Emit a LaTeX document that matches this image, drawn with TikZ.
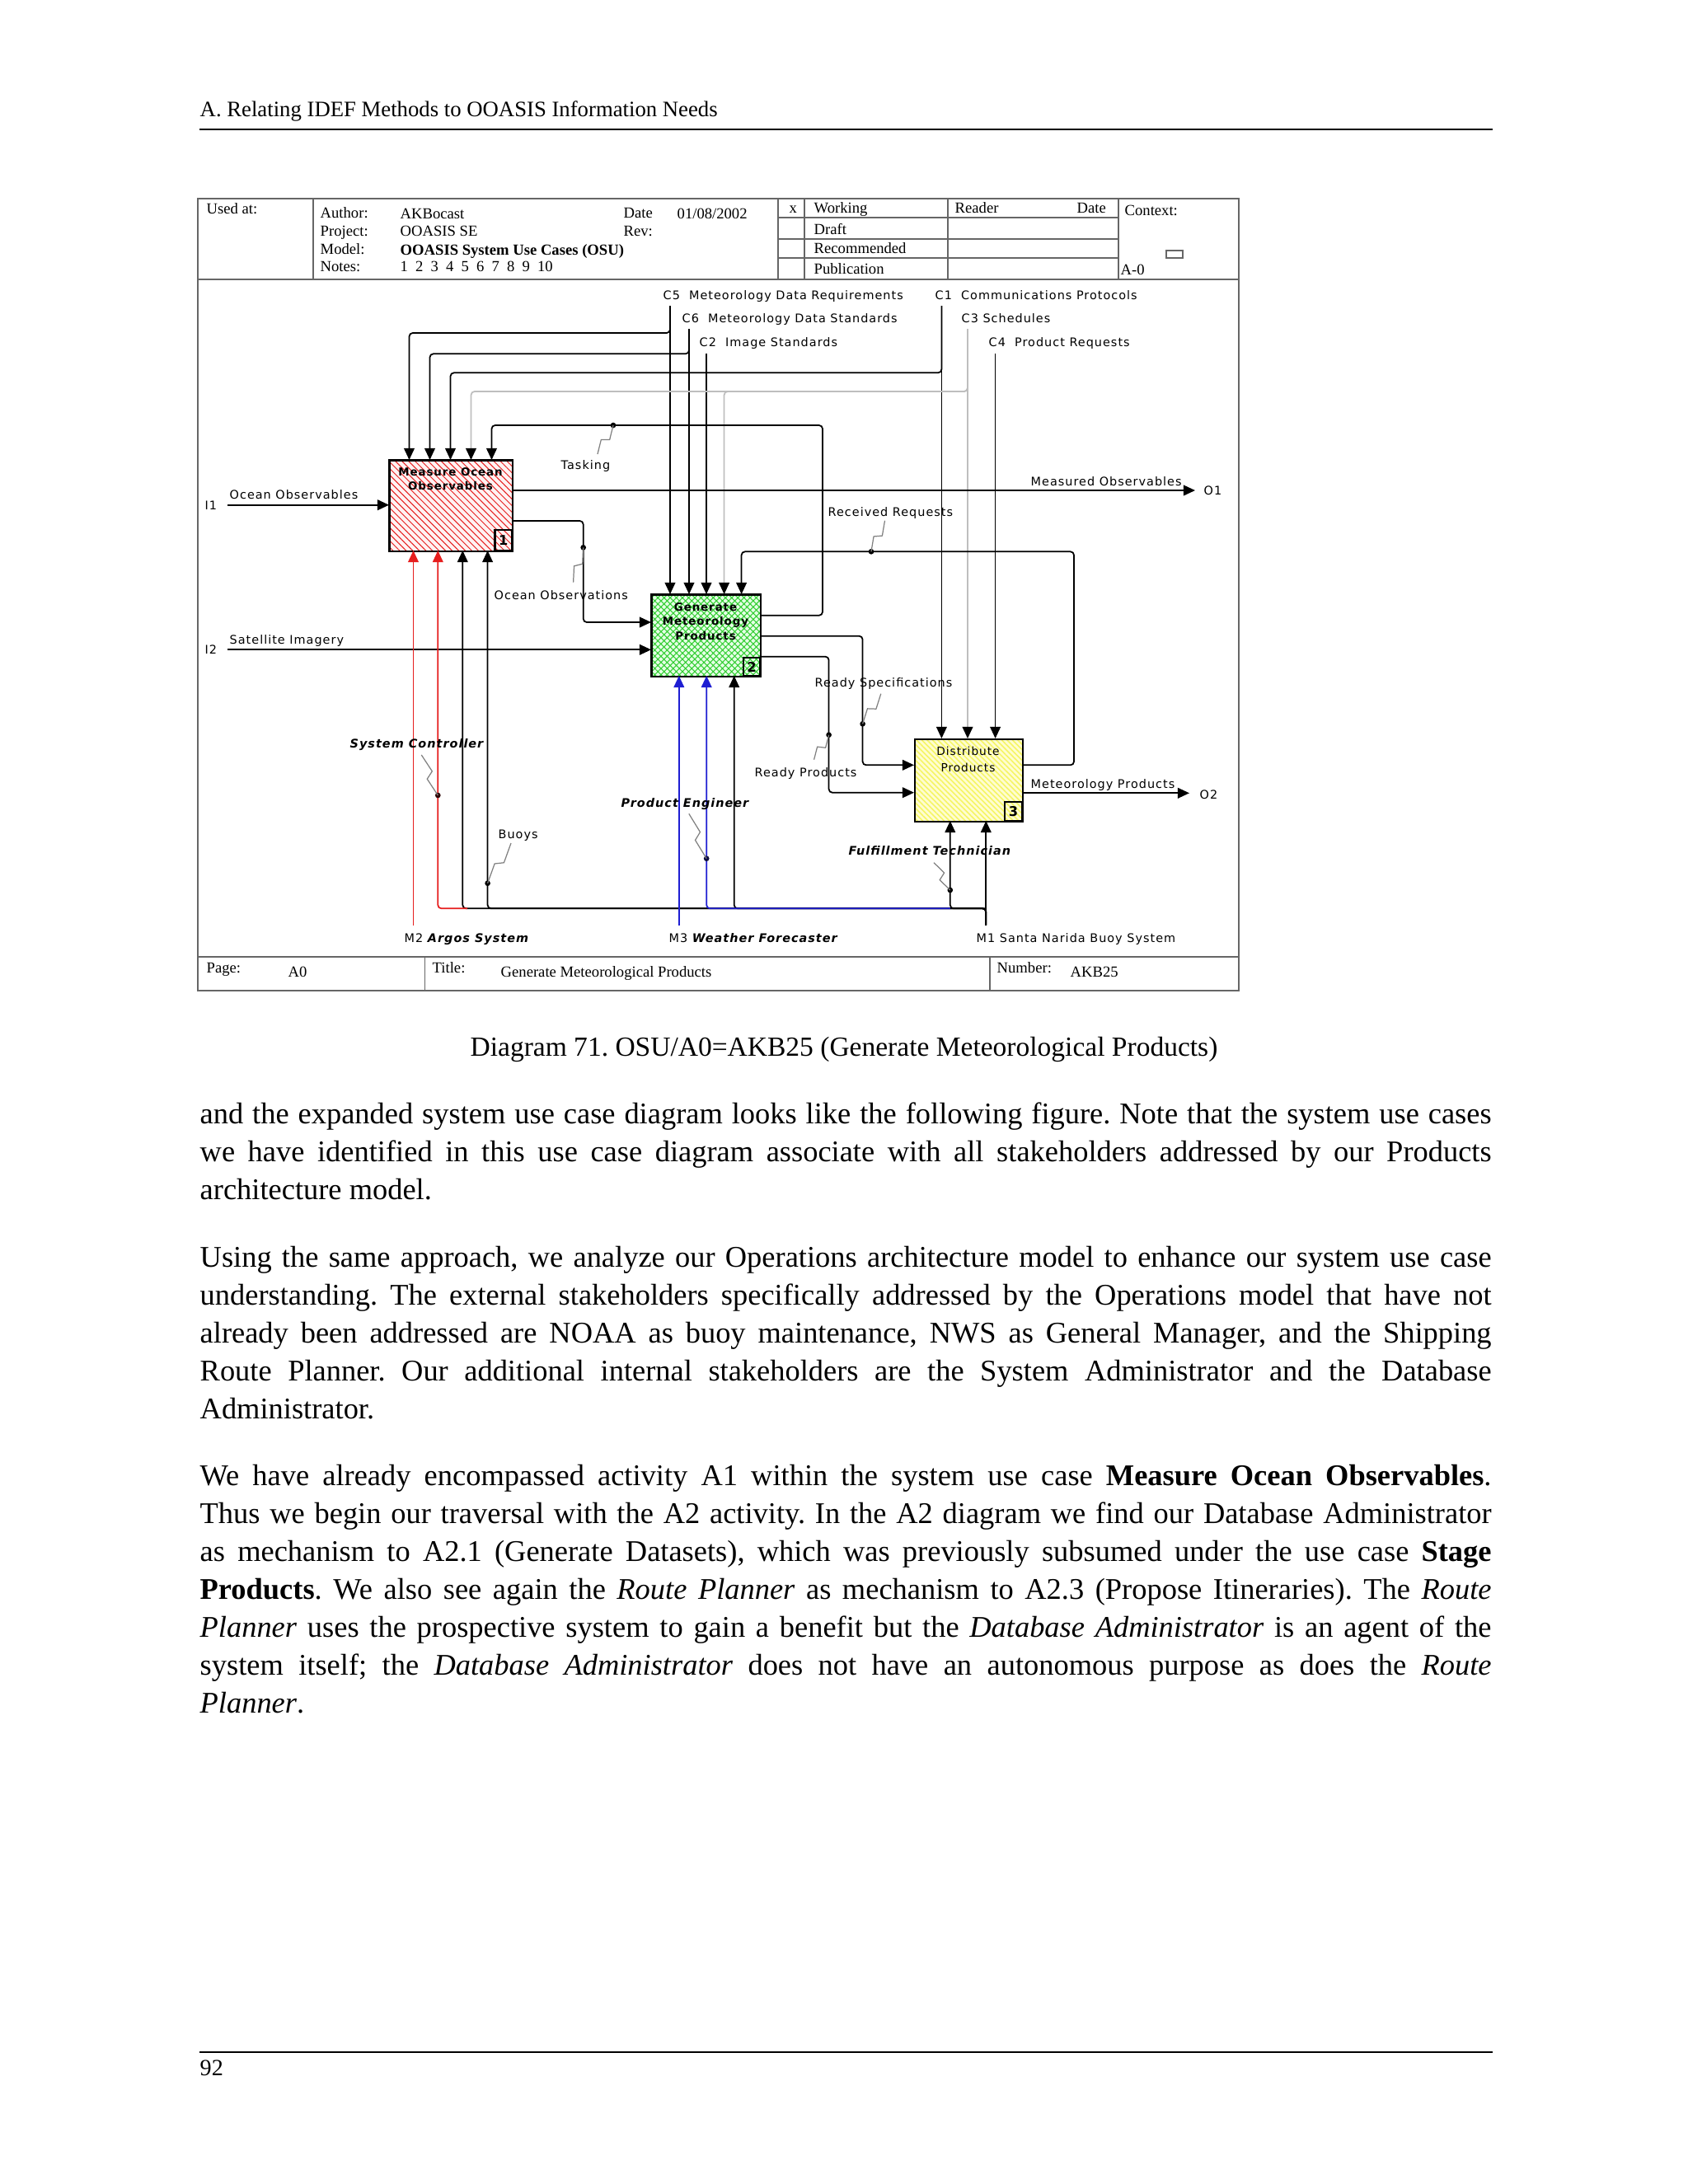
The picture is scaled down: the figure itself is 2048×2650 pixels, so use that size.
\documentclass[tikz,border=0pt]{standalone}
\usepackage{fontspec}
\setmainfont{Liberation Serif}
\newfontfamily\dfont[LetterSpace=7]{DejaVu Sans}
\usetikzlibrary{arrows.meta,patterns.meta,calc}
\definecolor{idefgreen}{RGB}{50,205,50}
\definecolor{idefyellow}{RGB}{245,245,100}
\definecolor{lgray}{RGB}{190,190,190}
\definecolor{idefblue}{RGB}{30,30,210}
\definecolor{idefred}{RGB}{230,30,30}
\newcommand{\mysquig}[2]{\draw[squig] #1 -- ($#1!0.44!#2!1.3pt!90:#2$) -- ($#1!0.56!#2!1.3pt!-90:#2$) -- #2;}
\begin{document}
\frenchspacing
\begin{tikzpicture}[x=0.01cm,y=-0.01cm,
  lbl/.style={font=\dfont\fontsize{4.1pt}{5pt}\selectfont, inner sep=0, anchor=base west},
  lblbi/.style={font=\dfont\bfseries\itshape\fontsize{4.1pt}{5pt}\selectfont, inner sep=0, anchor=base west},
  boxtxt/.style={font=\dfont\bfseries\fontsize{3.8pt}{4.6pt}\selectfont, inner sep=0, anchor=base},
  boxtxtr/.style={font=\dfont\fontsize{3.9pt}{4.6pt}\selectfont, inner sep=0, anchor=base},
  numtxt/.style={font=\dfont\bfseries\fontsize{4.6pt}{5pt}\selectfont, inner sep=0},
  hdr/.style={font=\fontsize{5.3pt}{6pt}\selectfont, inner sep=0, anchor=base west},
  body/.style={font=\fontsize{10.36pt}{12pt}\selectfont\frenchspacing, inner sep=0, anchor=base west},
  arr/.style={line width=0.5pt, rounded corners=1.2pt, -{Triangle[length=4pt,width=3.6pt]}},
  garr/.style={arr, draw=lgray, -{Triangle[length=4pt,width=3.6pt,color=black]}},
  squig/.style={draw=gray, line width=0.35pt},
  tline/.style={draw=black!60, line width=0.5pt},
  boxst/.style={draw=black, line width=0.6pt, inner sep=0, anchor=north west}
]
\useasboundingbox (0,0) rectangle (2048,2650);
\fill[white] (0,0) rectangle (2048,2650);

% ---- page header / footer ----
\node[font=\fontsize{7.6pt}{9pt}\selectfont, inner sep=0, anchor=base west] (phead) at (242,141.7) {A. Relating IDEF Methods to OOASIS Information Needs};
\draw[line width=0.8pt] (242,157) -- (1811,157);
\draw[line width=0.8pt] (242,2490) -- (1811,2490);
\node[font=\fontsize{8pt}{9pt}\selectfont, inner sep=0, anchor=base west] (pnum) at (242,2518) {92};

% ---- diagram frame ----
\draw[tline] (240,241) rectangle (1503,1202);
\draw[tline] (240,339.3) -- (1503,339.3);
\foreach \xx in {380,944,976,1150,1357} \draw[tline] (\xx,241) -- (\xx,339.3);
\foreach \yy in {264,290,313.3} \draw[tline] (944,\yy) -- (1357,\yy);
\draw[tline] (240,1161) -- (1503,1161);
\draw[tline] (515.5,1161) -- (515.5,1202);
\draw[tline] (1200.8,1161) -- (1200.8,1202);

\node[hdr] (usedat) at (250,259) {Used at:};
\node[hdr] (auth) at (388,264) {Author:};
\node[hdr] (authv) at (485,265) {AKBocast};
\node[hdr] (proj) at (388,286) {Project:};
\node[hdr] (projv) at (485,286) {OOASIS SE};
\node[hdr] (model) at (388,308) {Model:};
\node[hdr] (modelv) at (485,309) {\bfseries OOASIS System Use Cases (OSU)};
\node[hdr] (notes) at (388,329) {Notes:};
\node[hdr] (notesv) at (485,329) {\makebox[1.85cm][s]{1 2 3 4 5 6 7 8 9 10}};
\node[hdr] (date) at (756,264) {Date};
\node[hdr] (datev) at (821,265) {01/08/2002};
\node[hdr] (rev) at (756,286) {Rev:};
\node[hdr] (xmark) at (957,258) {x};
\node[hdr] (work) at (987,258) {Working};
\node[hdr] (draft) at (987,284) {Draft};
\node[hdr] (recom) at (987,307) {Recommended};
\node[hdr] (publ) at (987,332) {Publication};
\node[hdr] (reader) at (1158,258) {Reader};
\node[hdr] (rdate) at (1306,258) {Date};
\node[hdr] (context) at (1364,261) {Context:};
\node[hdr] (azero) at (1359,333) {A-0};
\draw[tline, line width=0.4pt] (1415,304) rectangle (1435,313);

\node[hdr] (page) at (250,1180) {Page:};
\node[hdr] (pagev) at (349,1185) {A0};
\node[hdr] (title) at (524,1180) {Title:};
\node[hdr] (titlev) at (607,1185) {Generate Meteorological Products};
\node[hdr] (number) at (1209,1180) {Number:};
\node[hdr] (numberv) at (1298,1185) {AKB25};

% ---- boxes ----
\fill[red!5] (472,558) rectangle (621,668);
\node[boxst, pattern={Lines[angle=-45,distance=1.6pt,line width=0.28pt]}, pattern color=idefred, minimum width=1.49cm, minimum height=1.10cm] (b1) at (472,558) {};
\fill[green!10] (790,721) rectangle (922,820);
\node[boxst, pattern={Hatch[angle=45,distance=1.5pt,line width=0.3pt]}, pattern color=idefgreen, minimum width=1.32cm, minimum height=0.99cm] (b2) at (790,721) {};
\fill[yellow!18] (1109,896) rectangle (1240,996);
\node[boxst, pattern={Lines[angle=-45,distance=1.3pt,line width=0.45pt]}, pattern color=idefyellow, minimum width=1.31cm, minimum height=1.00cm] (b3) at (1109,896) {};
\draw[line width=0.6pt] (600.5,668) rectangle (621,643);
\draw[line width=0.6pt] (902,820) rectangle (922,798);
\draw[line width=0.6pt] (1219,996) rectangle (1240,973);
\node[numtxt] (n1) at (610.7,656) {1};
\node[numtxt] (n2) at (912,809) {2};
\node[numtxt] (n3) at (1229.5,984.5) {3};

\node[boxtxt] (b1t1) at (546.5,577) {Measure Ocean};
\node[boxtxt] (b1t2) at (546.5,594) {Observables};
\node[boxtxt] (b2t1) at (856,741) {Generate};
\node[boxtxt] (b2t2) at (856,758) {Meteorology};
\node[boxtxt] (b2t3) at (856,776) {Products};
\node[boxtxtr] (b3t1) at (1174.5,916) {Distribute};
\node[boxtxtr] (b3t2) at (1174.5,936) {Products};

% ---- controls ----
\draw[arr] (813,371) -- (813,721);
\draw[arr] (813,371) -- (813,404) -- (496.5,404) -- (496.5,558);
\draw[arr] (836,399) -- (836,721);
\draw[arr] (836,399) -- (836,429.3) -- (521.5,429.3) -- (521.5,558);
\draw[arr] (857,429.3) -- (857,721);
\draw[arr] (1142.4,371) -- (1142.4,896);
\draw[arr] (1142.4,371) -- (1142.4,452.3) -- (546.5,452.3) -- (546.5,558);
\draw[garr] (1174,399) -- (1174,896);
\draw[garr] (1174,399) -- (1174,475) -- (571.5,475) -- (571.5,558);
\draw[garr] (1174,399) -- (1174,475) -- (878.6,475) -- (878.6,721);
\draw[arr] (1207.6,429.3) -- (1207.6,896);
% Tasking
\draw[arr] (922,746.7) -- (998,746.7) -- (998,516) -- (596.5,516) -- (596.5,558);
% Received Requests
\draw[arr] (1240,928.3) -- (1303,928.3) -- (1303,669.3) -- (899.6,669.3) -- (899.6,721);

% ---- inputs / outputs ----
\draw[arr] (276,612.7) -- (472,612.7);
\draw[arr] (276,788.3) -- (790,788.3);
\draw[arr] (621,595) -- (1450,595);
\draw[arr] (621,632) -- (707.7,632) -- (707.7,755) -- (790,755);
\draw[arr] (922,771.7) -- (1046.6,771.7) -- (1046.6,928.3) -- (1109,928.3);
\draw[arr] (922,796.7) -- (1005.6,796.7) -- (1005.6,961.7) -- (1109,961.7);
\draw[arr] (1240,962.3) -- (1443,962.3);

% ---- mechanisms ----
\draw[arr] (1196.3,1122.7) -- (1196.3,1102.3) -- (561.3,1102.3) -- (561.3,668);
\draw[arr] (1196.3,1122.7) -- (1196.3,1102.3) -- (591.6,1102.3) -- (591.6,668);
\draw[arr] (1196.3,1122.7) -- (1196.3,1102.3) -- (890.7,1102.3) -- (890.7,820);
\draw[arr] (1196.3,1102.3) -- (1152.8,1102.3) -- (1152.8,996);
\draw[arr] (1196.3,1122.7) -- (1196.3,996);
\draw[arr, draw=idefblue] (1152.8,1102.3) -- (857.2,1102.3) -- (857.2,820);
\draw[arr, draw=idefblue] (823.8,1122.7) -- (823.8,820);
\draw[arr, draw=idefred] (567,1102.3) -- (531.3,1102.3) -- (531.3,668);
\draw[arr, draw=idefred] (501.5,1122.7) -- (501.5,668);

% ---- branch dots ----
\foreach \p in {(744,516),(707.7,664.3),(1057,669.3),(1046.6,878.3),(1005.6,891.7),(591.6,1071.7),(1152.8,1080)}
  \fill \p circle (0.95pt);
\fill[black!80!idefred] (531.3,965) circle (0.95pt);
\fill[black!70!idefblue] (857.2,1041.7) circle (0.95pt);

% ---- squiggles ----
\mysquig{(744,516)}{(725,551)}
\mysquig{(707.7,664.3)}{(695.6,706.7)}
\mysquig{(1057,669.3)}{(1073.5,631.7)}
\mysquig{(1046.6,878.3)}{(1068.8,841.7)}
\mysquig{(1005.6,891.7)}{(987.6,921.7)}
\mysquig{(531.3,965)}{(511.3,916)}
\mysquig{(591.6,1071.7)}{(620,1023)}
\mysquig{(857.2,1041.7)}{(835.8,987.3)}
\mysquig{(1152.8,1080)}{(1133,1046.7)}

% ---- labels ----
\node[lbl] (c5) at (804,363) {C5~~Meteorology Data Requirements};
\node[lbl] (c6) at (827,391) {C6~~Meteorology Data Standards};
\node[lbl] (c2) at (848,420) {C2~~Image Standards};
\node[lbl] (c1) at (1134,363) {C1~~Communications Protocols};
\node[lbl] (c3) at (1166,391) {C3 Schedules};
\node[lbl] (c4) at (1199,420) {C4~~Product Requests};
\node[lbl] (task) at (680,569) {Tasking};
\node[lbl] (i1) at (248,618) {I1};
\node[lbl] (i2) at (248,793) {I2};
\node[lbl] (oobs) at (278,605) {Ocean Observables};
\node[lbl] (sat) at (278,781) {Satellite Imagery};
\node[lbl] (mobs) at (1250,589) {Measured Observables};
\node[lbl] (o1) at (1460,600) {O1};
\node[lbl] (o2) at (1455,969) {O2};
\node[lbl] (rreq) at (1004,626) {Received Requests};
\node[lbl] (oobsn) at (599,727) {Ocean Observations};
\node[lbl] (rspec) at (988,833) {Ready Specifications};
\node[lbl] (rprod) at (915,942) {Ready Products};
\node[lbl] (mprod) at (1250,956) {Meteorology Products};
\node[lblbi] (sysc) at (424,907) {System Controller};
\node[lblbi] (prode) at (753,979) {Product Engineer};
\node[lbl] (buoys) at (604,1017) {Buoys};
\node[lblbi] (fulf) at (1029,1037) {Fulfillment Technician};
\node[lbl] (m2) at (490,1143) {M2~{\bfseries\itshape Argos System}};
\node[lbl] (m3) at (811,1143) {M3~{\bfseries\itshape Weather Forecaster}};
\node[lbl] (m1) at (1184,1143) {M1~Santa Narida Buoy System};

% ---- caption and body text ----
\node[font=\fontsize{9.53pt}{11pt}\selectfont, inner sep=0, anchor=base] (cap) at (1024,1281) {Diagram 71. OSU/A0=AKB25 (Generate Meteorological Products)};

\node[body] (p1a) at (242,1363) {\makebox[15.66cm][s]{and the expanded system use case diagram looks like the following figure. Note that the system use cases}};
\node[body] (p1b) at (242,1409) {\makebox[15.66cm][s]{we have identified in this use case diagram associate with all stakeholders addressed by our Products}};
\node[body] (p1c) at (242,1455) {architecture model.};

\node[body] (p2a) at (242,1537) {\makebox[15.66cm][s]{Using the same approach, we analyze our Operations architecture model to enhance our system use case}};
\node[body] (p2b) at (242,1583) {\makebox[15.66cm][s]{understanding. The external stakeholders specifically addressed by the Operations model that have not}};
\node[body] (p2c) at (242,1629) {\makebox[15.66cm][s]{already been addressed are NOAA as buoy maintenance, NWS as General Manager, and the Shipping}};
\node[body] (p2d) at (242,1675) {\makebox[15.66cm][s]{Route Planner. Our additional internal stakeholders are the System Administrator and the Database}};
\node[body] (p2e) at (242,1721) {Administrator.};

\node[body] (p3a) at (242,1802) {\makebox[15.66cm][s]{We have already encompassed activity A1 within the system use case \textbf{Measure Ocean Observables}.}};
\node[body] (p3b) at (242,1848) {\makebox[15.66cm][s]{Thus we begin our traversal with the A2 activity. In the A2 diagram we find our Database Administrator}};
\node[body] (p3c) at (242,1894) {\makebox[15.66cm][s]{as mechanism to A2.1 (Generate Datasets), which was previously subsumed under the use case \textbf{Stage}}};
\node[body] (p3d) at (242,1940) {\makebox[15.66cm][s]{\textbf{Products}. We also see again the \textit{Route Planner} as mechanism to A2.3 (Propose Itineraries). The \textit{Route}}};
\node[body] (p3e) at (242,1986) {\makebox[15.66cm][s]{\textit{Planner} uses the prospective system to gain a benefit but the \textit{Database Administrator} is an agent of the}};
\node[body] (p3f) at (242,2032) {\makebox[15.66cm][s]{system itself; the \textit{Database Administrator} does not have an autonomous purpose as does the \textit{Route}}};
\node[body] (p3g) at (242,2078) {\textit{Planner}.};
\end{tikzpicture}
\end{document}
